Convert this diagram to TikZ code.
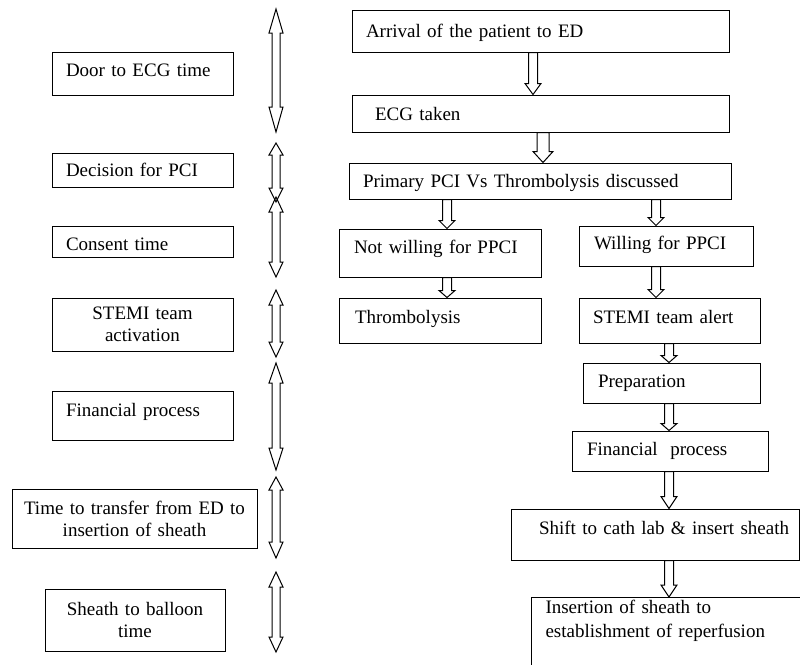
\documentclass[tikz,border=0pt]{standalone}
\usepackage{fontspec}
\setmainfont{Liberation Serif}
\usetikzlibrary{calc}
\tikzset{
  box/.style={draw, line width=1pt, rectangle, inner ysep=0pt, align=left,
    font=\fontsize{19}{22}\selectfont},
  oneline/.style={box, text height=14pt, text depth=4pt},
  cbox/.style={box, align=center, inner xsep=5pt},
  arr/.style={draw, line width=1pt, line join=miter}
}
% double-headed hollow arrow: x, ytop, ybot, top head length, bottom head length
\newcommand\dblarr[5]{%
  \draw[arr] (#1,#2) -- (#1+7,#2+#4) -- (#1+4,#2+#4) -- (#1+4,#3-#5) -- (#1+7,#3-#5)
    -- (#1,#3) -- (#1-7,#3-#5) -- (#1-4,#3-#5) -- (#1-4,#2+#4) -- (#1-7,#2+#4) -- cycle;}
% hollow block arrow from node #1 down to node #2 at x=#3; head length #4, shaft half #5, head half #6
\newcommand\dnarr[6]{%
  \draw[arr] let \p1=(#1.south), \p2=(#2.north) in
    (#3pt-#5pt,\y1) -- (#3pt+#5pt,\y1) -- (#3pt+#5pt,\y2+#4pt) -- (#3pt+#6pt,\y2+#4pt)
    -- (#3pt,\y2) -- (#3pt-#6pt,\y2+#4pt) -- (#3pt-#5pt,\y2+#4pt) -- cycle;}
\begin{document}
\begin{tikzpicture}[x=1pt,y=-1pt]
\useasboundingbox (0,0) rectangle (800,664);

% left column
\node[oneline, text width=153pt, inner xsep=14pt, minimum height=43pt, text depth=9pt] (door) at (142.5,73.5) {Door to ECG time};
\node[oneline, text width=153pt, inner xsep=14pt, minimum height=34pt, text depth=1pt] (dec) at (142.5,170) {Decision for PCI};
\node[oneline, text width=153pt, inner xsep=14pt, minimum height=31pt, text height=20pt, text depth=2pt] (cons) at (142.5,241.5) {Consent time};
\node[cbox, text width=171pt, minimum height=53pt] (act) at (142.5,324.5) {STEMI team\\activation};
\node[oneline, text width=153pt, inner xsep=14pt, minimum height=49pt, text depth=12pt] (finl) at (142.5,415.5) {Financial process};
\node[cbox, text width=235pt, minimum height=59pt] (trans) at (134.5,518.5) {Time to transfer from ED to\\insertion of sheath};
\node[cbox, text width=170pt, minimum height=62pt] (stb) at (135,620) {Sheath to balloon\\time};

% time arrows
\dblarr{276}{9}{132}{24}{25}
\dblarr{276}{143}{202}{12}{14}
\dblarr{276}{197}{277}{15}{15}
\dblarr{276}{290}{357}{15}{15}
\dblarr{276}{363}{470}{20}{22}
\dblarr{276}{477}{558}{13}{16}
\dblarr{276}{572}{652}{15}{15}

% right column
\node[oneline, text width=349pt, inner xsep=14pt, minimum height=42pt, text depth=2pt] (arr) at (540.5,31) {Arrival of the patient to ED};
\node[oneline, text width=331pt, inner xsep=23pt, minimum height=37pt, text depth=1pt] (ecg) at (540.5,113.5) {ECG taken};
\node[oneline, text width=354pt, inner xsep=14pt, minimum height=36pt, text depth=1pt] (prim) at (540,181) {Primary PCI Vs Thrombolysis discussed};
\node[oneline, text width=172pt, inner xsep=15pt, minimum height=48pt, text depth=13pt] (notw) at (440,253) {\mbox{Not willing for PPCI}};
\node[oneline, text width=170pt, inner xsep=16pt, minimum height=45pt, text depth=8pt] (thr) at (440,320.5) {Thrombolysis};
\node[oneline, text width=144pt, inner xsep=15pt, minimum height=40pt, text depth=7pt] (will) at (666,246) {\mbox{Willing for PPCI}};
\node[oneline, text width=153pt, inner xsep=14pt, minimum height=45pt, text depth=8pt] (alert) at (669.5,320.5) {\mbox{STEMI team alert}};
\node[oneline, text width=147pt, inner xsep=15pt, minimum height=40pt, text depth=5pt] (prep) at (671.5,383) {Preparation};
\node[oneline, text width=166pt, inner xsep=15pt, minimum height=40pt, text depth=5pt] (finr) at (670,451) {\mbox{Financial\ \ process}};
\node[oneline, text width=260pt, inner xsep=14pt, minimum height=51pt, text depth=14pt] (shift) at (655,534.5) {\hspace*{14pt}\mbox{Shift to cath lab \& insert sheath}};
\node[box, anchor=north west, text width=260pt, inner xsep=14pt, inner ysep=3pt, font=\fontsize{19}{24}\selectfont, text depth=80pt] (ins) at (531,597) {Insertion of sheath to\\establishment of reperfusion};

% flow arrows
\dnarr{arr}{ecg}{533}{11}{4.5}{8}
\dnarr{ecg}{prim}{543}{11}{6}{10}
\dnarr{prim}{notw}{447}{8}{4.5}{8}
\dnarr{prim}{will}{656}{8}{4.5}{8}
\dnarr{notw}{thr}{447}{7}{4.5}{8}
\dnarr{will}{alert}{656}{8}{4.5}{8}
\dnarr{alert}{prep}{669}{7}{4.5}{8}
\dnarr{prep}{finr}{669}{7}{4.5}{8}
\dnarr{finr}{shift}{669}{12}{4.5}{8}
\dnarr{shift}{ins}{669}{12}{4.5}{8}
\end{tikzpicture}
\end{document}
